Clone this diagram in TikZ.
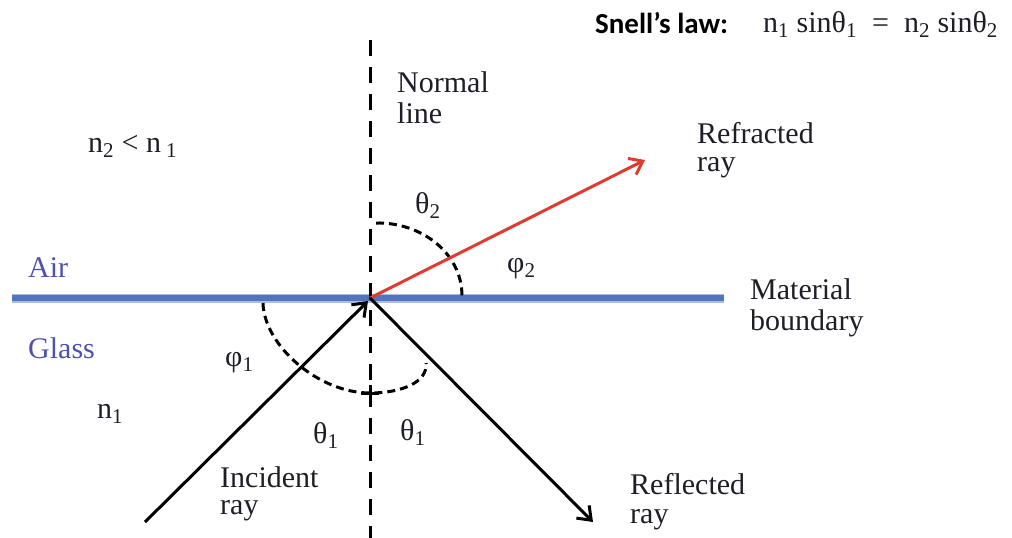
\documentclass[tikz,border=0pt]{standalone}
\usepackage{fontspec}
\setmainfont{Liberation Serif}
\newfontfamily\calibri{Carlito}
\usetikzlibrary{arrows.meta}
\definecolor{bnd}{RGB}{82,116,188}
\definecolor{bndhalo}{RGB}{170,188,225}
\definecolor{medium}{RGB}{78,82,168}
\definecolor{rayred}{RGB}{226,58,46}
\definecolor{txt}{RGB}{30,30,40}
\begin{document}
\begin{tikzpicture}[x=1pt,y=-1pt,
  lbl/.style={anchor=base west, inner sep=0pt, font=\fontsize{30}{31}\selectfont, text=txt},
  two/.style={lbl, align=left},
  mlbl/.style={lbl, text=medium},
  raystyle/.style={line width=3pt, -{Straight Barb[length=12pt,width=18pt]}},
  normalstyle/.style={line width=3pt, dash pattern=on 16pt off 11pt},
  arcstyle/.style={line width=3pt, dash pattern=on 8pt off 5pt},
  boundary/.style={line width=6pt, draw=bnd}]
\useasboundingbox (0,0) rectangle (1012,538);
% points
\coordinate (O) at (370,298);
\coordinate (bL) at (12,298);
\coordinate (bR) at (724,298);
\coordinate (nT) at (370,40);
\coordinate (nB) at (370,538);
\coordinate (incS) at (145,522);
\coordinate (refrE) at (645,160);
\coordinate (reflE) at (593,522);
% boundary
\draw[line width=9pt, draw=bndhalo] (bL) -- (bR);
\draw[boundary] (bL) -- (bR);
% normal
\draw[normalstyle] (nT) -- (nB);
% angle arcs
\draw[arcstyle] (263,303) .. controls (264,345) and (318,393) .. (370,393)
   .. controls (402,393) and (428,382) .. (426,363);
\draw[line width=3pt] (361,393) -- (379,393);
\draw[line width=3pt] (370,385) -- (370,401);
\draw[arcstyle] (376,223) .. controls (420,222) and (462,252) .. (462,296);
% rays
\draw[raystyle] (incS) -- ([shift={(-2,3)}]O);
\draw[raystyle, draw=rayred, color=rayred] (O) -- (refrE);
\draw[raystyle] (O) -- (reflE);
% labels
\node[anchor=base west, inner sep=0pt, font=\calibri\bfseries\fontsize{29}{30}\selectfont, text=black] (snell) at (595,33) {Snell’s law:};
\node[lbl] (eq) at (763,32) {n\textsubscript{1} sinθ\textsubscript{1}\ \ =\ \ n\textsubscript{2} sinθ\textsubscript{2}};
\node[two] (normal) at (397,123) {Normal\\ line};
\node[lbl] (ineq) at (88,152) {n\textsubscript{2} < n\,\textsubscript{1}};
\node[two] (refr) at (697,171) {Refracted\\[-3pt] ray};
\node[lbl] (th2) at (415,213) {θ\textsubscript{2}};
\node[mlbl] (air) at (28,277) {Air};
\node[lbl] (phi2) at (507,272) {φ\textsubscript{2}};
\node[two] (mat) at (750,330) {Material\\ boundary};
\node[mlbl] (glass) at (28,358) {Glass};
\node[lbl] (phi1) at (225,366) {φ\textsubscript{1}};
\node[lbl] (n1) at (97,418) {n\textsubscript{1}};
\node[lbl] (th1a) at (313,443) {θ\textsubscript{1}};
\node[lbl] (th1b) at (400,440) {θ\textsubscript{1}};
\node[two] (inc) at (220,514) {Incident\\[-4pt] ray};
\node[two] (refl) at (630,523) {Reflected\\[-2pt] ray};
\end{tikzpicture}
\end{document}
